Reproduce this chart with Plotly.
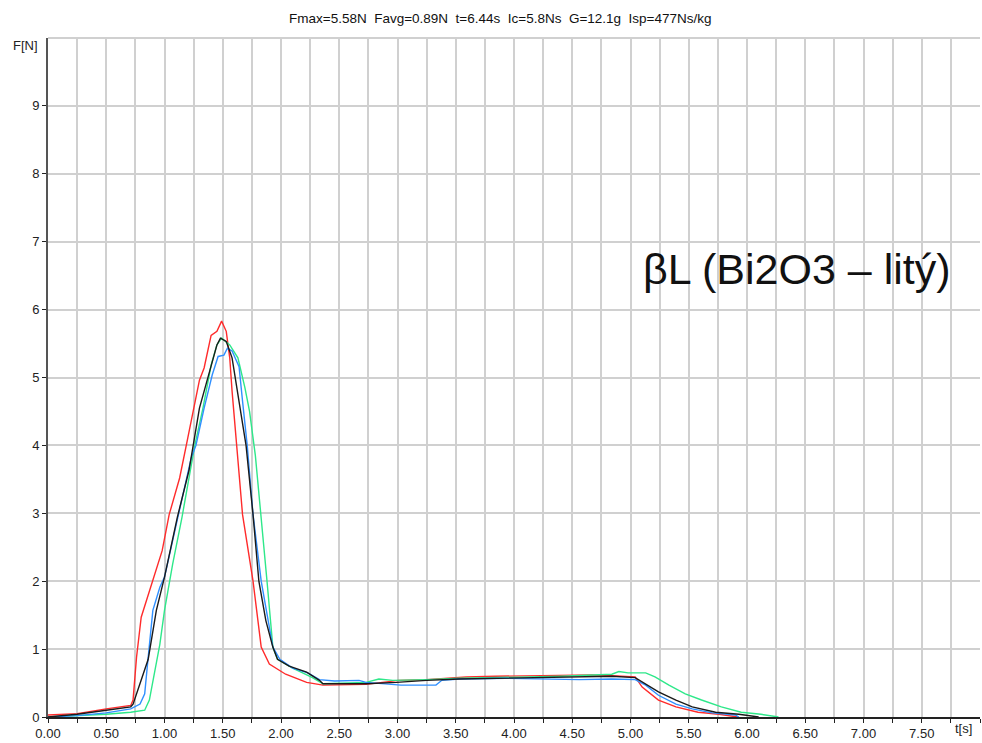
import plotly.graph_objects as go

# Thrust curves F(t) of four firings
red_t = [0, 0.25, 0.5, 0.71, 0.73, 0.76, 0.80, 0.89, 0.98, 1.04, 1.13, 1.20, 1.26, 1.30, 1.34, 1.40,
         1.45, 1.49, 1.53, 1.56, 1.58, 1.62, 1.67, 1.76, 1.83, 1.90, 2.04, 2.22, 2.36, 2.73, 3.01,
         3.25, 3.59, 3.84, 4.67, 4.84, 5.01, 5.04, 5.10, 5.24, 5.39, 5.58, 5.76, 5.92]
red_f = [0.03, 0.05, 0.12, 0.17, 0.25, 0.88, 1.47, 1.95, 2.45, 2.98, 3.52, 4.11, 4.6, 4.96, 5.14, 5.62,
         5.68, 5.83, 5.68, 5.29, 4.8, 4.0, 2.98, 2.0, 1.03, 0.78, 0.63, 0.51, 0.47, 0.48, 0.54,
         0.55, 0.59, 0.6, 0.62, 0.61, 0.59, 0.59, 0.44, 0.25, 0.15, 0.07, 0.04, 0.0]

green_t = [0, 0.25, 0.5, 0.71, 0.83, 0.87, 0.91, 0.96, 1.0, 1.07, 1.15, 1.23, 1.26, 1.33, 1.40, 1.45,
           1.49, 1.56, 1.63, 1.69, 1.73, 1.78, 1.83, 1.88, 1.93, 1.97, 2.10, 2.27, 2.36, 2.73, 2.84,
           2.96, 3.25, 3.53, 4.41, 4.84, 4.90, 4.98, 5.13, 5.21, 5.33, 5.47, 5.61, 5.78, 5.95, 6.12, 6.27]
green_f = [0, 0.02, 0.04, 0.07, 0.1, 0.25, 0.59, 1.07, 1.57, 2.25, 2.94, 3.72, 4.0, 4.55, 5.18, 5.48,
           5.58, 5.48, 5.29, 4.85, 4.5, 3.85, 2.98, 2.0, 1.03, 0.85, 0.72, 0.58, 0.49, 0.51, 0.56,
           0.54, 0.55, 0.57, 0.6, 0.63, 0.67, 0.65, 0.65, 0.59, 0.47, 0.34, 0.25, 0.15, 0.07, 0.04, 0.0]

blue_t = [0, 0.25, 0.5, 0.71, 0.79, 0.83, 0.86, 0.90, 0.96, 1.0, 1.10, 1.23, 1.27, 1.34, 1.41, 1.46,
          1.51, 1.54, 1.58, 1.64, 1.67, 1.71, 1.76, 1.83, 1.93, 1.99, 2.10, 2.23, 2.33, 2.46, 2.67,
          2.73, 3.03, 3.33, 3.38, 3.53, 3.93, 4.27, 4.56, 4.84, 5.04, 5.13, 5.24, 5.39, 5.53, 5.70, 5.90, 5.93]
blue_f = [0, 0.02, 0.06, 0.12, 0.19, 0.34, 0.88, 1.57, 1.91, 2.06, 2.83, 3.82, 4.0, 4.55, 5.04, 5.31,
          5.33, 5.43, 5.39, 5.16, 4.65, 4.0, 2.98, 2.0, 1.03, 0.85, 0.72, 0.65, 0.55, 0.53, 0.54,
          0.51, 0.47, 0.47, 0.54, 0.56, 0.57, 0.56, 0.55, 0.56, 0.55, 0.47, 0.32, 0.19, 0.12, 0.06, 0.03, 0.0]

black_t = [0, 0.25, 0.5, 0.71, 0.73, 0.79, 0.86, 0.93, 1.0, 1.11, 1.21, 1.30, 1.39, 1.45, 1.48, 1.53,
           1.58, 1.64, 1.70, 1.76, 1.81, 1.87, 1.93, 1.97, 2.07, 2.22, 2.33, 2.36, 2.73, 2.99, 3.25,
           3.53, 3.81, 4.27, 4.84, 5.04, 5.13, 5.24, 5.39, 5.53, 5.73, 5.93, 6.10]
black_f = [0, 0.04, 0.1, 0.15, 0.19, 0.48, 0.85, 1.57, 2.06, 2.94, 3.63, 4.55, 5.1, 5.48, 5.58, 5.53,
           5.29, 4.65, 4.0, 2.98, 2.0, 1.42, 1.03, 0.85, 0.75, 0.66, 0.54, 0.49, 0.49, 0.51, 0.54,
           0.56, 0.57, 0.59, 0.6, 0.58, 0.49, 0.37, 0.25, 0.15, 0.07, 0.04, 0.0]

x_tick_vals = [i * 0.5 for i in range(16)]
x_tick_text = ["%.2f" % v for v in x_tick_vals]
y_tick_vals = list(range(10))

summary = "Fmax=5.58N  Favg=0.89N  t=6.44s  Ic=5.8Ns  G=12.1g  Isp=477Ns/kg"
label = "βL (Bi2O3 – litý)"

series = [
    (red_t, red_f, "#ff2b2b"),
    (green_t, green_f, "#2ee88a"),
    (blue_t, blue_f, "#2f8fff"),
    (black_t, black_f, "#1a1a1a"),
]

fig = go.Figure()
for t, f, c in series:
    fig.add_trace(go.Scatter(x=t, y=f, mode="lines", line=dict(color=c, width=1.4),
                             showlegend=False, hoverinfo="skip"))

grid = "#d0d0d0"
sans = "Liberation Sans, Arial, sans-serif"
tick_font = dict(family=sans, size=13, color="#222")

fig.update_layout(
    width=982, height=743,
    margin=dict(l=48, r=2, t=38, b=23),
    paper_bgcolor="white", plot_bgcolor="white",
    xaxis=dict(range=[0, 8], tickvals=x_tick_vals, ticktext=x_tick_text,
               showgrid=True, gridcolor=grid, gridwidth=2,
               minor=dict(dtick=0.25, showgrid=True, gridcolor=grid, gridwidth=2,
                          ticks="outside", ticklen=4, tickcolor="#222"),
               ticks="outside", ticklen=4, tickcolor="#222",
               showline=True, linecolor="#222", linewidth=1.5,
               zeroline=False, tickfont=tick_font, fixedrange=True),
    yaxis=dict(range=[0, 10], tickvals=y_tick_vals,
               showgrid=True, gridcolor=grid, gridwidth=2,
               ticks="outside", ticklen=4, tickcolor="#222",
               showline=True, linecolor="#555", linewidth=2,
               zeroline=False, tickfont=tick_font, fixedrange=True),
    shapes=[dict(type="line", xref="paper", yref="paper", x0=0, x1=1, y0=1, y1=1,
                 line=dict(color=grid, width=2))],
    annotations=[
        dict(text=summary, xref="paper", yref="paper", x=0.486, y=1, yshift=20,
             xanchor="center", yanchor="middle", showarrow=False,
             font=dict(family=sans, size=13.5, color="#111")),
        dict(text="F[N]", xref="paper", yref="paper", x=0, y=1, xshift=-8, yshift=-7,
             xanchor="right", yanchor="middle", showarrow=False, font=tick_font),
        dict(text="t[s]", xref="paper", yref="paper", x=1, y=0, xshift=-6, yshift=-11,
             xanchor="right", yanchor="middle", showarrow=False, font=tick_font),
        dict(text=label, xref="paper", yref="paper", x=(797 - 48) / 932, y=(720 - 270) / 682,
             xanchor="center", yanchor="middle", showarrow=False,
             font=dict(family=sans, size=43, color="#111")),
    ],
)

fig.write_html("out.html")
